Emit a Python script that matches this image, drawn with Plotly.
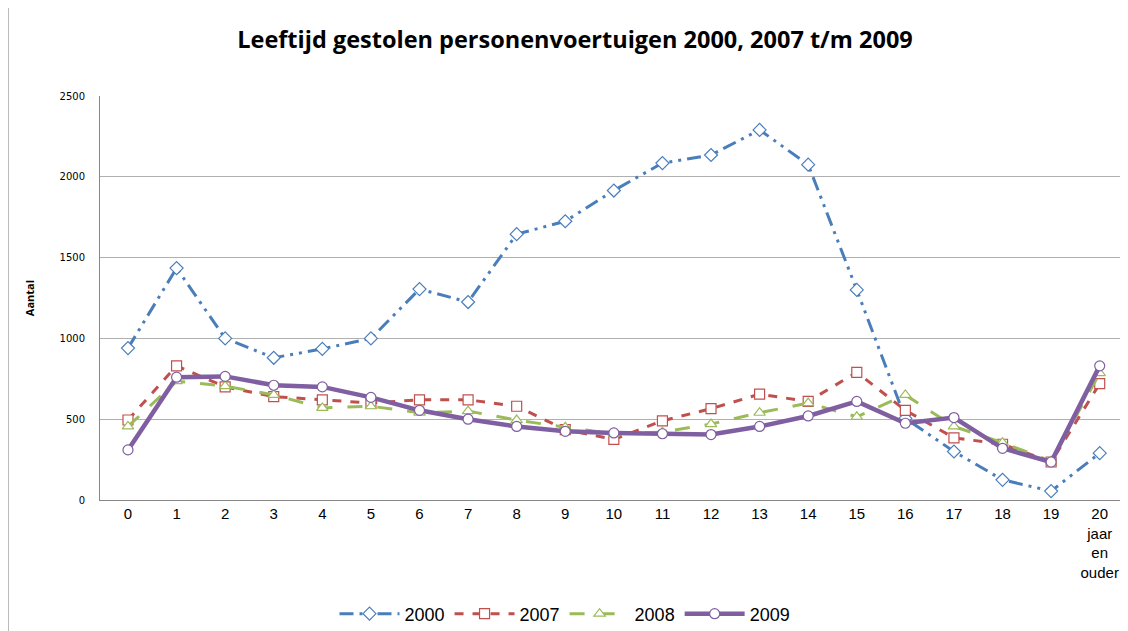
import plotly.graph_objects as go

categories = [str(i) for i in range(20)] + ["20<br>jaar<br>en<br>ouder"]
v2000 = [940, 1435, 1000, 880, 935, 1000, 1305, 1225, 1645, 1725, 1915, 2085, 2135, 2290, 2075, 1300, 505, 300, 125, 55, 290]
v2007 = [495, 830, 700, 640, 620, 600, 620, 620, 580, 435, 375, 490, 565, 655, 610, 790, 555, 385, 345, 235, 720]
v2008 = [455, 735, 705, 650, 570, 580, 540, 550, 495, 450, 410, 420, 470, 540, 600, 515, 650, 455, 355, 240, 785]
v2009 = [310, 760, 765, 710, 700, 635, 555, 500, 455, 425, 415, 410, 405, 455, 520, 610, 475, 510, 320, 235, 830]

series = [
    ("2000", v2000, "#4a7ebb", "14px,6px,3px,6px,3px,6px", 3, "diamond"),
    ("2007", v2007, "#c0504d", "dash", 3, "square"),
    ("2008", v2008, "#9bbb59", "longdash", 3, "triangle-up"),
    ("2009", v2009, "#7f5fa1", "solid", 4.5, "circle"),
]

fig = go.Figure()
for name, vals, color, dash, width, sym in series:
    fig.add_trace(go.Scatter(
        x=categories, y=vals, name=name, mode="lines+markers",
        line=dict(color=color, dash=dash, width=width),
        marker=dict(symbol=sym, size=10, color="white",
                    line=dict(color=color, width=1.2)),
    ))

# page body has an 8px margin, so all target pixel positions are shifted by 8
OFF = 8
W, H = 1120, 623
L, T = 100 - OFF, 96 - OFF
R = W - (1124 - OFF)
B = H - (500 - OFF)
pw = W - L - R
ph = H - T - B

fig.update_layout(
    width=W, height=H,
    margin=dict(l=L, r=R, t=T, b=B, pad=0, autoexpand=False),
    paper_bgcolor="white", plot_bgcolor="white",
    title=dict(text="<b>Leeftijd gestolen personenvoertuigen 2000, 2007 t/m 2009</b>",
               x=(575 - OFF) / W, xanchor="center", y=1 - (40 - OFF) / H, yanchor="middle",
               font=dict(family="Open Sans", size=23.5, color="black")),
    showlegend=True,
    legend=dict(orientation="h", x=(565 - OFF - L) / pw, xanchor="center",
                y=(ph - (614 - OFF - T)) / ph, yanchor="middle",
                font=dict(family="Liberation Sans", size=18, color="black"),
                itemwidth=60, tracegroupgap=0),
    xaxis=dict(type="category", showgrid=False, showline=True, linecolor="#888888",
               linewidth=1, ticks="", automargin=False,
               tickfont=dict(family="Liberation Sans", size=15, color="black"),
               range=[-0.576, 20.5], fixedrange=True),
    yaxis=dict(range=[0, 2500], dtick=500, showgrid=True, gridcolor="#b0b0b0", gridwidth=1,
               showline=True, linecolor="#888888", linewidth=1, ticks="",
               ticklabelstandoff=12, zeroline=False, automargin=False,
               tickfont=dict(family="DejaVu Sans", size=10, color="black"),
               title=dict(text="<b>Aantal</b>", font=dict(family="Open Sans", size=11, color="black"),
                          standoff=22)),
    shapes=[
        dict(type="line", xref="paper", yref="paper",
             x0=(0.5 - L) / pw, x1=(0.5 - L) / pw, y0=(ph + T) / ph, y1=-(B) / ph,
             line=dict(color="#bbbbbb", width=1)),
    ],
)

fig.write_html("out.html")
